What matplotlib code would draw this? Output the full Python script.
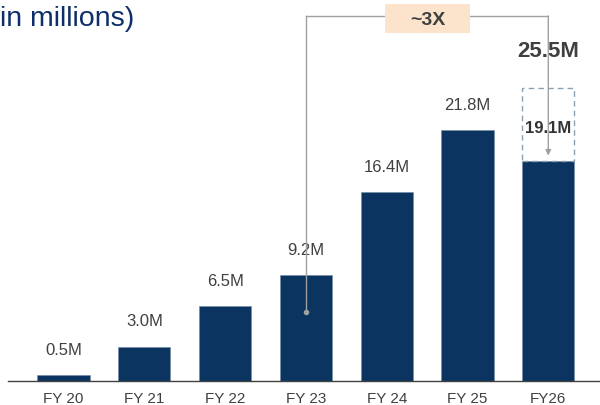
import matplotlib
matplotlib.use("Agg")
import matplotlib.pyplot as plt
from matplotlib.patches import Rectangle

plt.rcParams['font.family'] = ['Liberation Sans', 'DejaVu Sans']

categories = ["FY 20", "FY 21", "FY 22", "FY 23", "FY 24", "FY 25", "FY26"]
values = [0.5, 3.0, 6.5, 9.2, 16.4, 21.8, 19.1]
labels = ["0.5M", "3.0M", "6.5M", "9.2M", "16.4M", "21.8M", "19.1M"]
target_value = 25.5
target_label = "25.5M"
multiple_label = "~3X"
title_text = "in millions)"

bar_color = "#0b3560"
text_color = "#404040"

PX = 11.5  # pixels per unit (for layout only)

fig = plt.figure(figsize=(6.0, 4.06), dpi=100)
ax = fig.add_axes([8/600, 24/406, 592/600, 382/406])
ax.set_xlim(-0.687, 6.64)
ax.set_ylim(0, 382/PX)

x = list(range(len(categories)))
w = 0.645
ax.bar(x, values, width=w, color=bar_color, edgecolor="#6f8aa6", linewidth=0.4, zorder=2)

for i, (v, lab) in enumerate(zip(values, labels)):
    if i == len(values) - 1:
        continue
    ax.text(i, v + 1.6, lab, ha="center", va="bottom", fontsize=12, color=text_color)

# dashed target box for last bar
last = len(values) - 1
ax.add_patch(Rectangle((last - w/2, values[last]), w, target_value - values[last],
                       fill=False, edgecolor="#8aa0b0", linestyle=(0, (4, 3)), linewidth=1.0, zorder=3))
ax.text(last, (values[last] + target_value) / 2 - 0.25, labels[last], ha="center", va="center",
        fontsize=12, color="#333333", fontweight="bold", zorder=4)
ax.text(last, 28.7, target_label, ha="center", va="center", fontsize=16,
        color="#404040", fontweight="bold", zorder=4)

# bracket / arrow
ytop = (382 - 17) / PX
ax.plot([3, 3], [6.0, ytop], color="#a0a0a0", lw=1.0, zorder=3)
ax.plot([3, last], [ytop, ytop], color="#a0a0a0", lw=1.0, zorder=3)
ax.plot([3], [6.0], marker="o", ms=3, color="#a0a0a0", zorder=4)
ax.annotate("", xy=(last, values[last] + 0.5), xytext=(last, ytop),
            arrowprops=dict(arrowstyle="-|>", color="#a0a0a0", lw=1.0, mutation_scale=8,
                            shrinkA=0, shrinkB=0), zorder=4)
bx0, bx1 = 3.979, 5.031
by0, by1 = (382 - 34) / PX, (382 - 5) / PX
ax.add_patch(Rectangle((bx0, by0), bx1 - bx0, by1 - by0, facecolor="#fbe3cc",
                       edgecolor="none", zorder=5, clip_on=False))
ax.text((bx0 + bx1) / 2, (by0 + by1) / 2 - 0.1, multiple_label, ha="center", va="center",
        fontsize=14, fontweight="bold", color="#404040", zorder=6)

ax.set_xticks(x)
ax.set_xticklabels(categories, fontsize=11, color=text_color)
ax.tick_params(axis="x", length=0, pad=7)
ax.set_yticks([])
for s in ["top", "right", "left"]:
    ax.spines[s].set_visible(False)
ax.spines["bottom"].set_color("#404040")
ax.spines["bottom"].set_linewidth(1.0)

fig.text(0.0, 1 - 19/406, title_text, fontsize=20.5, color="#0d2d6b", ha="left", va="center")

fig.savefig("out.png", dpi=100)
